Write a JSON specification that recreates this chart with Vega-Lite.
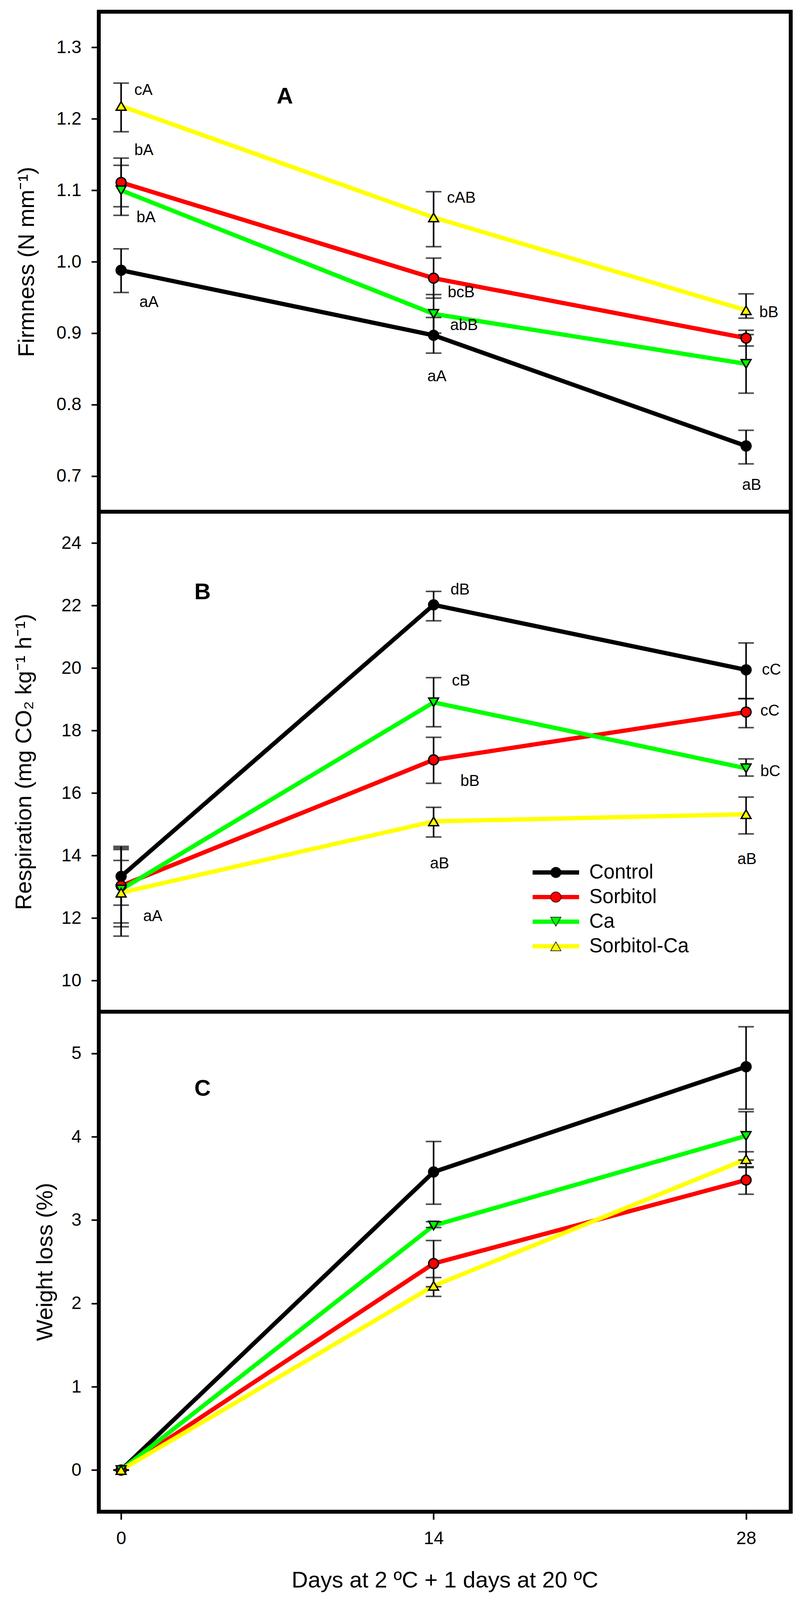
{
  "$schema": "https://vega.github.io/schema/vega-lite/v6.json",
  "autosize": "none",
  "padding": {"left": 253, "top": 30, "right": 1806, "bottom": 4070},
  "background": "white",
  "datasets": {
    "firmness": [
      {"treatment": "Control", "day": 0, "value": 0.988, "lo": 0.957, "hi": 1.018},
      {"treatment": "Sorbitol", "day": 0, "value": 1.111, "lo": 1.077, "hi": 1.145},
      {"treatment": "Ca", "day": 0, "value": 1.100, "lo": 1.065, "hi": 1.135},
      {"treatment": "Sorbitol-Ca", "day": 0, "value": 1.218, "lo": 1.182, "hi": 1.250},
      {"treatment": "Control", "day": 14, "value": 0.897, "lo": 0.872, "hi": 0.922},
      {"treatment": "Sorbitol", "day": 14, "value": 0.977, "lo": 0.949, "hi": 1.005},
      {"treatment": "Ca", "day": 14, "value": 0.927, "lo": 0.900, "hi": 0.954},
      {"treatment": "Sorbitol-Ca", "day": 14, "value": 1.062, "lo": 1.021, "hi": 1.098},
      {"treatment": "Control", "day": 28, "value": 0.742, "lo": 0.717, "hi": 0.764},
      {"treatment": "Sorbitol", "day": 28, "value": 0.893, "lo": 0.882, "hi": 0.904},
      {"treatment": "Ca", "day": 28, "value": 0.857, "lo": 0.816, "hi": 0.898},
      {"treatment": "Sorbitol-Ca", "day": 28, "value": 0.932, "lo": 0.921, "hi": 0.955}
    ],
    "respiration": [
      {"treatment": "Control", "day": 0, "value": 13.33, "lo": 12.41, "hi": 14.29},
      {"treatment": "Sorbitol", "day": 0, "value": 13.03, "lo": 11.84, "hi": 14.24},
      {"treatment": "Ca", "day": 0, "value": 12.91, "lo": 11.72, "hi": 14.19},
      {"treatment": "Sorbitol-Ca", "day": 0, "value": 12.81, "lo": 11.42, "hi": 13.84},
      {"treatment": "Control", "day": 14, "value": 22.02, "lo": 21.51, "hi": 22.45},
      {"treatment": "Sorbitol", "day": 14, "value": 17.06, "lo": 16.31, "hi": 17.78},
      {"treatment": "Ca", "day": 14, "value": 18.90, "lo": 18.12, "hi": 19.69},
      {"treatment": "Sorbitol-Ca", "day": 14, "value": 15.09, "lo": 14.59, "hi": 15.54},
      {"treatment": "Control", "day": 28, "value": 19.94, "lo": 19.02, "hi": 20.80},
      {"treatment": "Sorbitol", "day": 28, "value": 18.59, "lo": 18.09, "hi": 19.02},
      {"treatment": "Ca", "day": 28, "value": 16.79, "lo": 16.54, "hi": 17.09},
      {"treatment": "Sorbitol-Ca", "day": 28, "value": 15.32, "lo": 14.69, "hi": 15.87}
    ],
    "weightLoss": [
      {"treatment": "Control", "day": 0, "value": 0, "lo": 0, "hi": 0},
      {"treatment": "Sorbitol", "day": 0, "value": 0, "lo": 0, "hi": 0},
      {"treatment": "Ca", "day": 0, "value": 0, "lo": 0, "hi": 0},
      {"treatment": "Sorbitol-Ca", "day": 0, "value": 0, "lo": 0, "hi": 0},
      {"treatment": "Control", "day": 14, "value": 3.577, "lo": 3.19, "hi": 3.943},
      {"treatment": "Sorbitol", "day": 14, "value": 2.478, "lo": 2.20, "hi": 2.754},
      {"treatment": "Ca", "day": 14, "value": 2.934, "lo": 2.91, "hi": 2.98},
      {"treatment": "Sorbitol-Ca", "day": 14, "value": 2.21, "lo": 2.084, "hi": 2.31},
      {"treatment": "Control", "day": 28, "value": 4.84, "lo": 4.33, "hi": 5.32},
      {"treatment": "Sorbitol", "day": 28, "value": 3.48, "lo": 3.31, "hi": 3.63},
      {"treatment": "Ca", "day": 28, "value": 4.01, "lo": 3.72, "hi": 4.30},
      {"treatment": "Sorbitol-Ca", "day": 28, "value": 3.73, "lo": 3.64, "hi": 3.82}
    ],
    "firmnessLetters": [
      {"day": 0.59, "value": 1.240, "text": "cA"},
      {"day": 0.59, "value": 1.156, "text": "bA"},
      {"day": 0.69, "value": 1.062, "text": "bA"},
      {"day": 0.82, "value": 0.943, "text": "aA"},
      {"day": 14.6, "value": 1.089, "text": "cAB"},
      {"day": 14.63, "value": 0.957, "text": "bcB"},
      {"day": 14.74, "value": 0.911, "text": "abB"},
      {"day": 13.72, "value": 0.839, "text": "aA"},
      {"day": 28.59, "value": 0.929, "text": "bB"},
      {"day": 27.82, "value": 0.687, "text": "aB"}
    ],
    "respirationLetters": [
      {"day": 0.99, "value": 12.05, "text": "aA"},
      {"day": 14.76, "value": 22.50, "text": "dB"},
      {"day": 14.82, "value": 19.59, "text": "cB"},
      {"day": 15.2, "value": 16.37, "text": "bB"},
      {"day": 13.84, "value": 13.74, "text": "aB"},
      {"day": 28.71, "value": 19.94, "text": "cC"},
      {"day": 28.64, "value": 18.62, "text": "cC"},
      {"day": 28.64, "value": 16.69, "text": "bC"},
      {"day": 27.61, "value": 13.87, "text": "aB"}
    ],
    "panelNames": [
      {"panel": "A", "day": 6.97, "value": 1.231},
      {"panel": "B", "day": 3.28, "value": 22.41},
      {"panel": "C", "day": 3.28, "value": 4.57}
    ]
  },
  "vconcat": [
    {
      "width": 1772,
      "height": 1280,
      "encoding": {
        "x": {"field": "day", "type": "quantitative", "scale": {"domain": [-1, 30], "nice": false, "zero": false}, "axis": null},
        "y": {
          "field": "value", "type": "quantitative",
          "scale": {"domain": [0.65, 1.35], "nice": false, "zero": false},
          "axis": {"title": "Firmness  (N mm⁻¹)", "values": [0.7, 0.8, 0.9, 1.0, 1.1, 1.2, 1.3], "format": ".1f", "titleX": -155}
        }
      },
      "layer": [
        {
          "data": {"name": "firmness"},
          "mark": {"type": "line", "strokeWidth": 11},
          "encoding": {
            "color": {
              "field": "treatment", "type": "nominal", "sort": ["Control", "Sorbitol", "Ca", "Sorbitol-Ca"],
              "scale": {"range": ["#000000", "#ff0000", "#00ff00", "#ffff00"]},
              "legend": {"title": null, "symbolType": "M-4.5,0H4.5", "symbolStrokeWidth": 11, "labelOffset": 60}
            }
          }
        },
        {
          "data": {"name": "firmness"},
          "mark": {"type": "errorbar", "color": "black", "rule": {"strokeWidth": 4}, "ticks": {"size": 40, "thickness": 4}},
          "encoding": {
            "y": {
              "field": "lo", "type": "quantitative",
              "scale": {"domain": [0.65, 1.35], "nice": false, "zero": false},
              "axis": {"title": "Firmness  (N mm⁻¹)", "values": [0.7, 0.8, 0.9, 1.0, 1.1, 1.2, 1.3], "format": ".1f", "titleX": -155}
            },
            "y2": {"field": "hi"}
          }
        },
        {
          "data": {"name": "firmness"},
          "mark": {"type": "point", "filled": true, "size": 640, "stroke": "black", "strokeWidth": 3.5, "opacity": 1},
          "encoding": {
            "fill": {
              "field": "treatment", "type": "nominal",
              "scale": {"domain": ["Control", "Sorbitol", "Ca", "Sorbitol-Ca"], "range": ["#000000", "#ff0000", "#00ff00", "#ffff00"]},
              "legend": {"title": null, "labelOpacity": 0, "labelOffset": 60}
            },
            "shape": {
              "field": "treatment", "type": "nominal",
              "scale": {"domain": ["Control", "Sorbitol", "Ca", "Sorbitol-Ca"], "range": ["circle", "circle", "triangle-down", "triangle-up"]},
              "legend": {"title": null, "labelOpacity": 0, "labelOffset": 60}
            }
          }
        },
        {
          "data": {"name": "firmnessLetters"},
          "mark": {"type": "text", "align": "left", "baseline": "middle", "fontSize": 40, "font": "Liberation Sans", "color": "black"},
          "encoding": {"text": {"field": "text"}}
        },
        {
          "data": {"name": "panelNames"},
          "transform": [{"filter": "datum.panel == 'A'"}],
          "mark": {"type": "text", "align": "left", "baseline": "middle", "fontSize": 58, "fontWeight": "bold", "font": "Liberation Sans", "color": "black"},
          "encoding": {"text": {"field": "panel"}}
        }
      ]
    },
    {
      "width": 1772,
      "height": 1280,
      "encoding": {
        "x": {"field": "day", "type": "quantitative", "scale": {"domain": [-1, 30], "nice": false, "zero": false}, "axis": null},
        "y": {
          "field": "value", "type": "quantitative",
          "scale": {"domain": [9, 25], "nice": false, "zero": false},
          "axis": {"title": "Respiration (mg CO₂ kg⁻¹ h⁻¹)", "values": [10, 12, 14, 16, 18, 20, 22, 24], "titleX": -162}
        }
      },
      "layer": [
        {
          "data": {"name": "respiration"},
          "mark": {"type": "line", "strokeWidth": 11},
          "encoding": {
            "color": {
              "field": "treatment", "type": "nominal", "sort": ["Control", "Sorbitol", "Ca", "Sorbitol-Ca"],
              "scale": {"range": ["#000000", "#ff0000", "#00ff00", "#ffff00"]},
              "legend": {"title": null, "symbolType": "M-4.5,0H4.5", "symbolStrokeWidth": 11, "labelOffset": 60}
            }
          }
        },
        {
          "data": {"name": "respiration"},
          "mark": {"type": "errorbar", "color": "black", "rule": {"strokeWidth": 4}, "ticks": {"size": 40, "thickness": 4}},
          "encoding": {
            "y": {
              "field": "lo", "type": "quantitative",
              "scale": {"domain": [9, 25], "nice": false, "zero": false},
              "axis": {"title": "Respiration (mg CO₂ kg⁻¹ h⁻¹)", "values": [10, 12, 14, 16, 18, 20, 22, 24], "titleX": -162}
            },
            "y2": {"field": "hi"}
          }
        },
        {
          "data": {"name": "respiration"},
          "mark": {"type": "point", "filled": true, "size": 640, "stroke": "black", "strokeWidth": 3.5, "opacity": 1},
          "encoding": {
            "fill": {
              "field": "treatment", "type": "nominal",
              "scale": {"domain": ["Control", "Sorbitol", "Ca", "Sorbitol-Ca"], "range": ["#000000", "#ff0000", "#00ff00", "#ffff00"]},
              "legend": {"title": null, "labelOpacity": 0, "labelOffset": 60}
            },
            "shape": {
              "field": "treatment", "type": "nominal",
              "scale": {"domain": ["Control", "Sorbitol", "Ca", "Sorbitol-Ca"], "range": ["circle", "circle", "triangle-down", "triangle-up"]},
              "legend": {"title": null, "labelOpacity": 0, "labelOffset": 60}
            }
          }
        },
        {
          "data": {"name": "respirationLetters"},
          "mark": {"type": "text", "align": "left", "baseline": "middle", "fontSize": 40, "font": "Liberation Sans", "color": "black"},
          "encoding": {"text": {"field": "text"}}
        },
        {
          "data": {"name": "panelNames"},
          "transform": [{"filter": "datum.panel == 'B'"}],
          "mark": {"type": "text", "align": "left", "baseline": "middle", "fontSize": 58, "fontWeight": "bold", "font": "Liberation Sans", "color": "black"},
          "encoding": {"text": {"field": "panel"}}
        }
      ]
    },
    {
      "width": 1772,
      "height": 1280,
      "encoding": {
        "x": {
          "field": "day", "type": "quantitative", "scale": {"domain": [-1, 30], "nice": false, "zero": false},
          "axis": {"title": "Days at 2 ºC + 1 days at 20 ºC", "values": [0, 14, 28], "tickSize": 20, "labelPadding": 26, "titlePadding": 56}
        },
        "y": {
          "field": "value", "type": "quantitative",
          "scale": {"domain": [-0.5, 5.5], "nice": false, "zero": false},
          "axis": {"title": "Weight loss (%)", "values": [0, 1, 2, 3, 4, 5], "titleX": -108}
        }
      },
      "layer": [
        {
          "data": {"name": "weightLoss"},
          "mark": {"type": "line", "strokeWidth": 11},
          "encoding": {
            "color": {
              "field": "treatment", "type": "nominal", "sort": ["Control", "Sorbitol", "Ca", "Sorbitol-Ca"],
              "scale": {"range": ["#000000", "#ff0000", "#00ff00", "#ffff00"]},
              "legend": {"title": null, "symbolType": "M-4.5,0H4.5", "symbolStrokeWidth": 11, "labelOffset": 60}
            }
          }
        },
        {
          "data": {"name": "weightLoss"},
          "mark": {"type": "errorbar", "color": "black", "rule": {"strokeWidth": 4}, "ticks": {"size": 40, "thickness": 4}},
          "encoding": {
            "y": {
              "field": "lo", "type": "quantitative",
              "scale": {"domain": [-0.5, 5.5], "nice": false, "zero": false},
              "axis": {"title": "Weight loss (%)", "values": [0, 1, 2, 3, 4, 5], "titleX": -108}
            },
            "y2": {"field": "hi"}
          }
        },
        {
          "data": {"name": "weightLoss"},
          "mark": {"type": "point", "filled": true, "size": 640, "stroke": "black", "strokeWidth": 3.5, "opacity": 1},
          "encoding": {
            "fill": {
              "field": "treatment", "type": "nominal",
              "scale": {"domain": ["Control", "Sorbitol", "Ca", "Sorbitol-Ca"], "range": ["#000000", "#ff0000", "#00ff00", "#ffff00"]},
              "legend": {"title": null, "labelOpacity": 0, "labelOffset": 60}
            },
            "shape": {
              "field": "treatment", "type": "nominal",
              "scale": {"domain": ["Control", "Sorbitol", "Ca", "Sorbitol-Ca"], "range": ["circle", "circle", "triangle-down", "triangle-up"]},
              "legend": {"title": null, "labelOpacity": 0, "labelOffset": 60}
            }
          }
        },
        {
          "data": {"name": "panelNames"},
          "transform": [{"filter": "datum.panel == 'C'"}],
          "mark": {"type": "text", "align": "left", "baseline": "middle", "fontSize": 58, "fontWeight": "bold", "font": "Liberation Sans", "color": "black"},
          "encoding": {"text": {"field": "panel"}}
        }
      ]
    }
  ],
  "spacing": 0,
  "bounds": "flush",
  "config": {
    "font": "Liberation Sans",
    "view": {"stroke": "black", "strokeWidth": 10},
    "axis": {
      "grid": false,
      "domain": false,
      "tickColor": "black",
      "tickWidth": 4,
      "tickSize": 19,
      "labelPadding": 26,
      "labelFont": "Liberation Sans",
      "labelFontSize": 46,
      "labelColor": "black",
      "titleFont": "Liberation Sans",
      "titleFontSize": 58,
      "titleFontWeight": "normal",
      "titleColor": "black"
    },
    "legend": {
      "orient": "none",
      "legendX": 1145,
      "legendY": 2178,
      "padding": 0,
      "labelFont": "Liberation Sans",
      "labelFontSize": 51,
      "labelColor": "black",
      "labelLimit": 0,
      "symbolSize": 700,
      "rowPadding": 11
    }
  }
}
